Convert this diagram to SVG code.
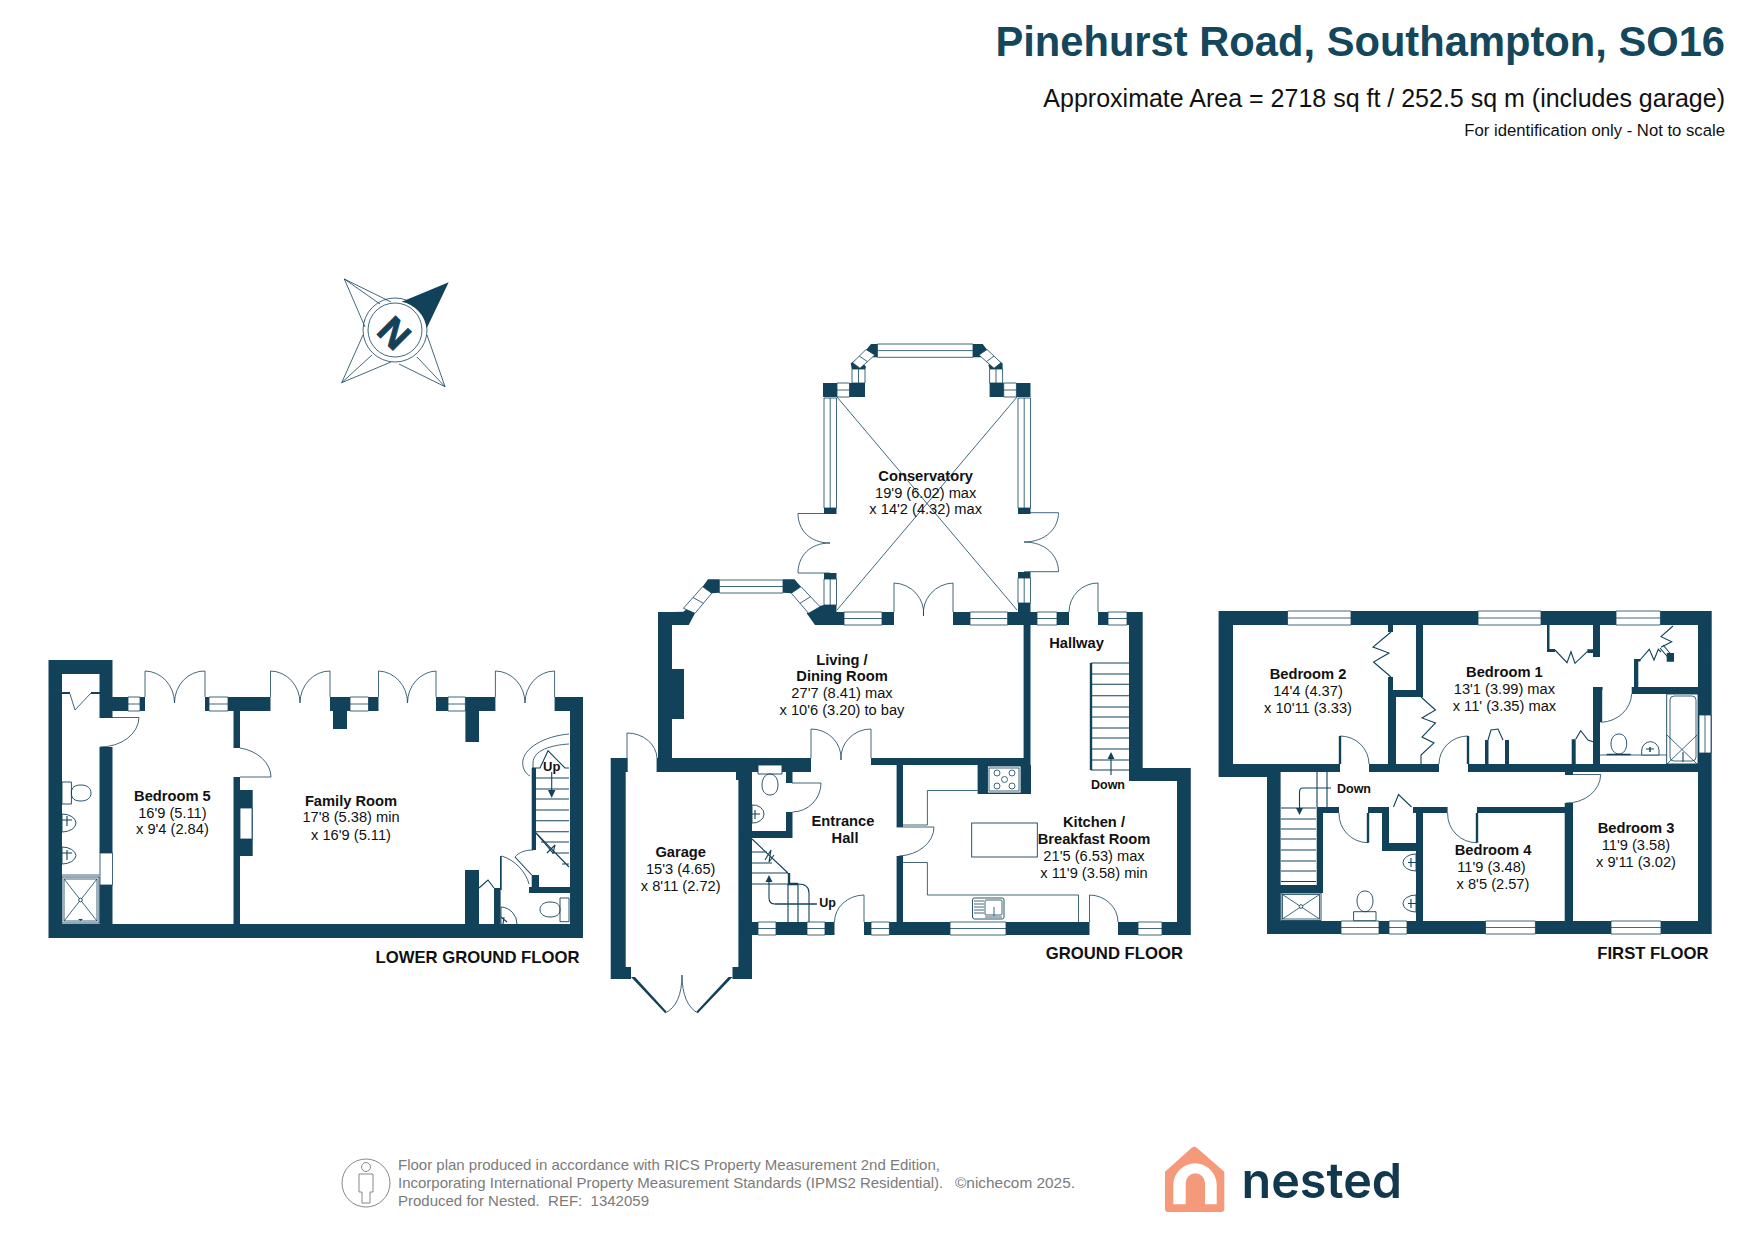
<svg xmlns="http://www.w3.org/2000/svg" width="1755" height="1241" viewBox="0 0 1755 1241">
<style>
text{font-family:"Liberation Sans",Arial,sans-serif;fill:#111}
.b{font-weight:700;font-size:14.7px;text-anchor:middle}
.t{font-size:14.65px;text-anchor:middle}
.sm{font-weight:700;font-size:12.5px;text-anchor:middle}
.fl{font-weight:700;font-size:16.7px;text-anchor:end}
.w{fill:#12425a}
.win{fill:#fff;stroke:#12425a;stroke-width:.8}
.d{fill:none;stroke:#12425a;stroke-width:.8}
.s{fill:none;stroke:#12425a;stroke-width:1.1}
.h{fill:none;stroke:#12425a;stroke-width:2.4}
.f{fill:#fff;stroke:#12425a;stroke-width:.9}
.a{fill:#12425a}
.g{font-size:15px;fill:#7b7b7b}
.p{fill:none;stroke:#7b7b7b;stroke-width:.9}
</style>
<rect width="1755" height="1241" fill="#fff"/>

<g id="header">
<text x="1725" y="56" text-anchor="end" font-weight="700" font-size="41.700" style="fill:#14465c">Pinehurst Road, Southampton, SO16</text>
<text x="1725" y="107" text-anchor="end" font-size="25">Approximate Area = 2718 sq ft / 252.5 sq m (includes garage)</text>
<text x="1725" y="136" text-anchor="end" font-size="16.700">For identification only - Not to scale</text>
</g>

<g id="compass">
<path class="d" d="M344.300 279L391 302M344.300 279L365 327M344.300 279L380 304M341.700 382.700L363 335M341.700 382.700L391 362M341.700 382.700L372 355M445 386.700L399 364M445 386.700L427 335M445 386.700L417 357"/>
<circle class="d" cx="395" cy="330" r="32"/>
<circle class="d" cx="395" cy="330" r="27"/>
<path class="a" d="M401.700 301.700L448.700 282.300L426.700 328.300A32 32 0 0 0 401.700 301.700Z"/>
<text x="0" y="0" text-anchor="middle" font-weight="700" font-size="38" transform="translate(394.500 333) rotate(45) translate(0 13.500)" style="fill:#12425a;stroke:#12425a;stroke-width:1">N</text>
</g>

<g id="lower-ground-floor">
<path class="w" d="M48.500 660H112.500V674H48.500ZM48.500 660H62V938H48.500ZM99.500 660H112.500V718H99.500ZM99.500 747H112.500V853H99.500ZM99.500 885H112.500V924H99.500ZM48.500 924H583V938H48.500ZM570 697H583V938H570ZM112.500 697H145V711H112.500ZM205 697H270.500V711H205ZM330 697H378.500V711H330ZM436 697H495.400V711H436ZM554.600 697H583V711H554.600ZM333 711H347V729H333ZM465.400 711H479V742H465.400ZM233.500 711H240V748H233.500ZM233.500 777H240V924H233.500ZM240 790H252.700V856H240ZM465 870H479V924H465ZM494 888H500.600V924H494ZM531.700 875H539V893H531.700ZM529 887H570V893H529ZM531.700 768H536V850H531.700ZM500 856H501.700V890H500ZM62 692H70V694H62ZM91 692H99.500V694H91Z"/>
<path class="win" d="M128 697h12v14h-12zM128 704h12M209 697h19v14h-19zM209 704h19M350 697h18.500v14h-18.500zM350 704h18.500M448 697h17.400v14h-17.400zM448 704h17.400"/>
<rect class="win" x="100" y="853" width="12.500" height="32"/>
<rect class="win" x="240" y="808" width="12" height="31"/>
<path class="d" d="M145 697V671A30 32 0 0 1 174.500 703M205 697V671A30 32 0 0 0 174.500 703M270.500 697V671A30 32 0 0 1 300 703M330 697V671A30 32 0 0 0 300 703M378.500 697V671A30 32 0 0 1 407.500 703M436 697V671A30 32 0 0 0 407.500 703M495.400 697V671A30 32 0 0 1 525 703M554.600 697V671A30 32 0 0 0 525 703"/>
<path class="d" d="M240 748A39 30 0 0 1 271 777H240M106 717.500H139A39 30 0 0 1 100 747M70 694L75 710L91 693M569 734C545 736 522.700 748 522.700 763C522.700 769 526 774 530 776M569 744C552 745 533 750 533 763V768M501.700 856C515 860 526 872 529 884M515 857C519 852 526 850 533 850"/>
<path class="s" d="M515 857L531.700 875M532 768H540L548 750.700L565 768H569M536 778H569M536 789H569M536 799H569M536 810H569M536 820.700H569M536 831.700H569M536 833L569 867M541 842H569M552 853H569M562 864H569M547 853L555 845"/>
<path class="s" d="M536 833L553 853L555 845M479 888L488 880L494 888"/>
<path class="s" d="M551.700 772V792"/><path class="a" d="M551.700 798L548 790H555.400Z"/>
<path class="f" d="M62 782H71.400V804H62ZM62 814A14 9 0 0 1 76 823A14 9 0 0 1 62 832ZM62 847A14 9 0 0 1 76 855.500A14 9 0 0 1 62 864ZM71.400 793C71.400 787 75 785 81 785C87 785 91 788 91 793C91 798 87 801 81 801C75 801 71.400 799 71.400 793ZM560 898H569V921.700H560ZM560 909.500C560 904 556 902 550 902C544 902 540 905 540 909.500C540 914 544 917 550 917C556 917 560 915 560 909.500Z"/>
<path class="s" d="M62 820H72M67 816V826M62 853H72M67 850V860"/>
<rect class="f" x="62" y="877" width="37" height="46"/>
<rect class="d" x="64" y="879" width="33" height="42"/>
<path class="d" d="M64 879L97 921M97 879L64 921M62 875H99.500"/>
<circle class="f" cx="80.500" cy="900" r="1.800"/>
<path class="a" d="M78 919H83L80.500 921Z"/>
<path class="f" d="M501 924V907A17 17 0 0 1 517 924"/>
<path class="s" d="M501 917L507 922M503 924L504 917"/>
<text class="b" x="172.400" y="800.700">Bedroom 5</text>
<text class="t" x="172.400" y="817.700">16'9 (5.11)</text>
<text class="t" x="172.400" y="834">x 9'4 (2.84)</text>
<text class="b" x="351" y="805.500">Family Room</text>
<text class="t" x="351" y="822">17'8 (5.38) min</text>
<text class="t" x="351" y="839.500">x 16'9 (5.11)</text>
<text class="b" x="551.700" y="771" style="font-size:13px">Up</text>
<text class="fl" x="579.500" y="962.500">LOWER GROUND FLOOR</text>
</g>

<g id="ground-floor">
<path class="w" d="M823 383H865V397H823ZM989.600 383H1030.500V397H989.600ZM824 508H836.500V514H824ZM1018 508H1030.500V514H1018ZM824 573H836.500V579H824ZM1018 572H1030.500V578H1018ZM866 350L871 344H877.500V357.300H872.500ZM973 344H982.700L987.300 350L980.800 357.300H973ZM850.700 363.300L858.300 358.300L866 366.700L865 370L851.800 369.300ZM994.800 358.300L1002.600 363.300V369.300H989.600L988.400 365ZM683.400 611.700L688.800 607.300L695 613.300L688.800 625H672V612ZM702.600 586.700L708 579.300H719.400V592.700L711.700 593.300ZM783 579.300H794.400L801 586.700L791.400 593.300L783 592.700ZM816 606.700L824 605H836.500V625H815L806.700 613.300ZM836.500 612H844V625H836.500ZM882 612H894V625H882ZM953 612H970V625H953ZM1007.600 612H1018V625H1007.600ZM1018 603H1030.500V612H1037V625H1018ZM1057 612H1069V625H1057ZM1098 612H1108V625H1098ZM1127 612H1142.700V625H1127ZM1129 612H1142.700V781H1129ZM1023.600 625H1030.500V765H1023.600ZM658 612H672V765H658ZM672 669H684V719H672ZM656.600 758H811V772H656.600ZM871 758H1030.500V765H871ZM610.700 758H627.700V772H610.700ZM610.700 758H625.700V979H610.700ZM610.700 967H631V979H610.700ZM738.400 772H752V979H738.400ZM732.500 967H752V979H732.500ZM752 922H834.500V935H752ZM864 922H1089.500V935H864ZM1118 922H1190.800V935H1118ZM1177 768H1190.800V935H1177ZM1130 768H1190.800V781H1130ZM896.600 765H903V827H896.600ZM896.600 856H903V922H896.600ZM786 765H792.500V783H786ZM786 812H792.500V838H786ZM752 831H792.500V838H752ZM977.600 765H1031V794H977.600ZM736 772H752V780H736Z"/>
<path class="w" d="M631 977L665 1013L666.500 1011.500L635 977ZM732.500 977L698 1013L696.500 1011.500L728.500 977Z"/>
<path class="win" d="M877.500 344h95.500v13.300h-95.500zM877.500 350.600h95.500M852 369h13v14h-13zM858.500 369v14M989.600 369h13v14h-13zM996 369v14M837 383h12.500v14h-12.500zM837 390h12.500M1003.700 383h12.700v14h-12.700zM1003.700 390h12.700M824 398h12.500v110h-12.500zM830.200 398v110M1018 398h12.500v110h-12.500zM1024.200 398v110M824 579h12.500v26h-12.500zM830.200 579v26M1018 578h12.500v25h-12.500zM1024.200 578v25M719.400 580h63.600v13h-63.600zM719.400 586.500h63.600M844 612h38v13h-38zM844 618.500h38M970 612h37.600v13h-37.600zM970 618.500h37.600M1037 612h20v13h-20zM1037 618.500h20M1108 612h19v13h-19zM1108 618.500h19M758 922h18v13h-18zM758 928.500h18M807 922h18v13h-18zM807 928.500h18M871 922h18.400v13h-18.400zM871 928.500h18.400M950 922h56v13h-56zM950 928.500h56M1138 922h24v13h-24zM1138 928.500h24"/>
<path class="win" d="M866 349.500L852.600 362.700L860 368.300L874.800 355ZM859.300 356.100L867.400 361.600M987 349.500L1001 362.700L994 368.300L979 355ZM994 356.100L986.500 361.600M683.400 608.300L702.600 586.700L711.700 593.300L695 613.300ZM693 597.500L703.400 603.300M801 586.700L820 606.700L808.600 613.300L791.400 593.300ZM810.500 596.700L800 603.300"/>
<path class="d" d="M837 397L1017 610M1017 397L837 610"/>
<path class="d" d="M830 513.500H798C798 530 810 543 830 543C810 543 798 556 798 573H830M1024 512.700H1058.500C1058.500 528 1046 542 1024 542C1046 542 1058.500 556 1058.500 571.700H1024"/>
<path class="d" d="M894 612V583A31 30 0 0 1 923.500 616M953 612V583A31 30 0 0 0 923.500 616M1069 612A29 29 0 0 1 1098 583V612M811 758V729A30 29 0 0 1 841 760M871 758V729A30 29 0 0 0 841 760M627 758V733A30 26 0 0 1 657 758M864 922V895A30 27 0 0 0 834.500 922M1089.500 922V895A29 27 0 0 1 1118 922M896.600 827H934A37 29 0 0 1 899 856M792 783H821A29 29 0 0 1 792.500 812M665 1013C676 1008 682 995 682 975C682 995 688 1008 698 1013"/>
<path class="s" d="M1091 663H1129M1091 674H1129M1091 684.300H1129M1091 695.700H1129M1091 707H1129M1091 717H1129M1091 728H1129M1091 738H1129M1091 749H1129M1091 760H1129M1091 770H1129M752 852H767M752 863H772M752 873H788M752 884H788M752 839L788 873M765 860L771 850L769 862L774 855M775 904H817M788 884V922M798 884V922M798 884Q809 884 809 893V922"/>
<path class="h" d="M1091 663V770M789 873V884H798"/>
<path class="s" d="M1111 775V757M816.700 904H775Q769 904 769 898V880"/><path class="a" d="M1111 752L1107.500 759H1114.500ZM769 875L765.500 882H772.500Z"/>
<path class="d" d="M977.600 790.500H927.400V825H903M903 862.500H927.400V895H1078.500V922"/>
<rect class="f" x="971.700" y="823" width="65.600" height="34"/>
<path class="f" d="M758 765H782V774H758ZM762 785C762 779 765 774 770 774C775 774 778 779 778 785C778 791 775 795 770 795C765 795 762 791 762 785ZM752 805A11 9 0 0 1 764 814A11 9 0 0 1 752 823Z"/>
<path class="s" d="M752 814H760M755 810V819"/>
<rect class="f" x="987.500" y="766" width="33.500" height="27"/>
<g class="d"><rect x="989" y="768" width="30" height="23"/><circle cx="997" cy="773" r="3"/><circle cx="1012" cy="773" r="3"/><circle cx="1004.500" cy="779.500" r="3"/><circle cx="997" cy="786" r="3"/><circle cx="1012" cy="786" r="3"/></g>
<rect class="f" x="972.500" y="898" width="31.500" height="21" rx="2"/>
<rect class="d" x="985" y="900" width="17" height="15" rx="1"/>
<path class="d" d="M974 901H984M974 904H984M974 907H984M974 910H984M974 913H984M994 907V916M985 917H1002"/>
<text class="b" x="925.700" y="480.700">Conservatory</text>
<text class="t" x="925.700" y="497.700">19'9 (6.02) max</text>
<text class="t" x="925.700" y="514">x 14'2 (4.32) max</text>
<text class="b" x="842" y="664.500">Living /</text>
<text class="b" x="842" y="681">Dining Room</text>
<text class="t" x="842" y="697.800">27'7 (8.41) max</text>
<text class="t" x="842" y="714.500">x 10'6 (3.20) to bay</text>
<text class="b" x="1076.500" y="647.700">Hallway</text>
<text class="sm" x="1108" y="788.500">Down</text>
<text class="b" x="680.700" y="856.700">Garage</text>
<text class="t" x="680.700" y="874">15'3 (4.65)</text>
<text class="t" x="680.700" y="891">x 8'11 (2.72)</text>
<text class="b" x="843" y="825.700">Entrance</text>
<text class="b" x="845" y="842.700">Hall</text>
<text class="sm" x="827.500" y="906.500">Up</text>
<text class="b" x="1094" y="827.200">Kitchen /</text>
<text class="b" x="1094" y="844.200">Breakfast Room</text>
<text class="t" x="1094" y="860.500">21'5 (6.53) max</text>
<text class="t" x="1094" y="877.500">x 11'9 (3.58) min</text>
<text class="fl" x="1183" y="958.500">GROUND FLOOR</text>
</g>

<g id="first-floor">
<path class="w" d="M1218.600 611H1711.700V625H1218.600ZM1218.600 611H1233V777H1218.600ZM1218.600 764H1280.600V777H1218.600ZM1280 764H1340V772H1280ZM1369 764H1439V772H1369ZM1468 764H1711.700V772H1468ZM1267 777H1280.600V934H1267ZM1267 921H1711.700V934H1267ZM1698 611H1711.700V934H1698ZM1388 690H1396V764H1388ZM1388 690H1423V697H1388ZM1416 625H1423V697H1416ZM1593 625H1600V657H1593ZM1587.300 649.300H1593V653H1587.300ZM1593 687H1602.600V690H1593ZM1593 687H1600V764H1593ZM1634 659H1638.300V687H1634ZM1634 659H1640.500V661.500H1634ZM1631.700 687H1698V694H1631.700ZM1316.700 807H1339V813H1316.700ZM1368 807H1389V813H1368ZM1413 807H1447.600V813H1413ZM1477 807H1565V813H1477ZM1316.700 807H1323V893H1316.700ZM1267 885H1323V893H1267ZM1382 807H1389V851H1382ZM1382 843H1423V851H1382ZM1416 807H1423V921H1416ZM1564.700 803H1573V921H1564.700ZM1565 772H1573V775H1565ZM1571.700 739.300H1575.700V764H1571.700ZM1485 740H1488.500V764H1485ZM1505 740H1509V764H1505ZM1388 625H1393V632H1388ZM1388 677H1393V690H1388ZM1666.700 653H1674V661.700H1666.700ZM1547 625H1549.500V650H1547ZM1547 649H1555V652H1547Z"/>
<path class="win" d="M1287.500 611h63.500v14h-63.500zM1287.500 618h63.500M1478 611h63v14h-63zM1478 618h63M1616 611h44.400v14h-44.400zM1616 618h44.400M1341 921h38v13h-38zM1341 927.500h38M1389 921h18v13h-18zM1389 927.500h18M1485.500 921h49.900v13h-49.900zM1485.500 927.500h49.900M1611 921h50v13h-50zM1611 927.500h50M1699 715h12v38h-12zM1705 715v38"/>
<path class="s" d="M1391 632L1373 647L1389 653L1373.500 662L1391 677M1421 697L1435.500 710L1422 718L1435.500 723L1422 737L1434 743L1421 755V764"/>
<path class="s" d="M1555 650L1567 662.700L1571 651.700L1575 663.300L1587.300 651.700M1640 660L1649.300 649.300L1654 660L1658.300 649.300L1661 652M1673 626L1661 636.700L1671.700 641.700L1661 647.300"/>
<path class="s" d="M1660 648L1671 661M1663 645L1674 658"/>
<path class="s" d="M1488 740L1491 730L1498 729L1503 740M1575.700 739.300L1580.700 730.700L1588 740L1593 741.700"/>
<path class="d" d="M1340 736A29 28 0 0 1 1369 764M1468 736A29 28 0 0 0 1439 764M1573 774.500H1600.700A34 29 0 0 1 1566 803M1339 813A29 29 0 0 0 1368 842.700M1447.600 813A29 29 0 0 0 1477 842.700M1631.700 694A32 30 0 0 1 1601.700 722.300"/>
<path class="h" d="M1340 736V764M1468 736V764M1368 813V842.700M1477 813V842.700M1601 690V722.300"/>
<path class="s" d="M1393.500 807L1398.500 794.500L1411.500 807M1317 772V807M1327 772V807M1281 808H1316M1281 819H1316M1281 829H1316M1281 839H1316M1281 850H1316M1281 861H1316M1281 871H1316M1281 881.500H1316M1331 788H1303Q1299.500 788 1299.500 792V810"/>
<path class="a" d="M1299.500 815L1296 808H1303Z"/>
<rect class="f" x="1666.700" y="694" width="31.300" height="70"/>
<rect class="d" x="1670" y="696" width="26" height="65" rx="4"/>
<path class="d" d="M1667 735L1697 764M1697 735L1667 764M1600 755H1666.700"/>
<path class="f" d="M1611 744C1611 738 1614 734 1619 734C1624 734 1626.700 738 1626.700 744C1626.700 749 1624 754 1619 754C1614 754 1611 749 1611 744ZM1641.700 755V750A8.700 9.300 0 0 1 1659 750V755ZM1416 854A13 8.500 0 0 0 1403 862.500A13 8.500 0 0 0 1416 871ZM1416 895A13 8.500 0 0 0 1403 903.500A13 8.500 0 0 0 1416 912ZM1353.600 911.700H1376V920.700H1353.600ZM1357 901C1357 895 1360 891 1365 891C1370 891 1373 895 1373 901C1373 906 1370 911.700 1365 911.700C1360 911.700 1357 906 1357 901Z"/>
<path class="h" d="M1606.700 754.500H1630.700M1650 747V752" style="stroke-width:1.500"/>
<path class="s" d="M1646 749H1654M1683 752V762M1408 862.500H1416M1411 858V867M1408 903.500H1416M1411 899V908"/>
<rect class="f" x="1281" y="893" width="40" height="27.500"/>
<rect class="d" x="1282.500" y="894.500" width="37" height="24.500"/>
<path class="d" d="M1282.500 894.500L1319.500 919M1319.500 894.500L1282.500 919"/>
<circle class="f" cx="1301" cy="906.500" r="1.800"/>
<text class="b" x="1308" y="678.700">Bedroom 2</text>
<text class="t" x="1308" y="695.700">14'4 (4.37)</text>
<text class="t" x="1308" y="712.700">x 10'11 (3.33)</text>
<text class="b" x="1504.400" y="676.500">Bedroom 1</text>
<text class="t" x="1504.400" y="693.500">13'1 (3.99) max</text>
<text class="t" x="1504.400" y="710.500">x 11' (3.35) max</text>
<text class="b" x="1636" y="833">Bedroom 3</text>
<text class="t" x="1636" y="850.300">11'9 (3.58)</text>
<text class="t" x="1636" y="867.300">x 9'11 (3.02)</text>
<text class="b" x="1493" y="855.300">Bedroom 4</text>
<text class="t" x="1491.500" y="872">11'9 (3.48)</text>
<text class="t" x="1493" y="889">x 8'5 (2.57)</text>
<text class="sm" x="1354" y="792.500">Down</text>
<text class="fl" x="1708.500" y="958.500">FIRST FLOOR</text>
</g>

<g id="footer">
<circle class="p" cx="366" cy="1183" r="24"/>
<circle class="p" cx="366" cy="1167" r="4.500"/>
<path class="p" d="M359 1174H373V1192H370V1203H362V1192H359Z"/>
<text class="g" x="398" y="1169.500">Floor plan produced in accordance with RICS Property Measurement 2nd Edition,</text>
<text class="g" x="398" y="1188">Incorporating International Property Measurement Standards (IPMS2 Residential).</text>
<text class="g" x="955" y="1188" style="font-size:15.400px">©nichecom 2025.</text>
<text class="g" x="398" y="1206">Produced for Nested.&#160; REF:&#160; 1342059</text>
<path d="M1165 1171.700L1191.500 1148Q1194.300 1145.500 1197.100 1148L1224.300 1171.700V1209Q1224.300 1212 1221.300 1212H1168Q1165 1212 1165 1209Z" fill="#f4997a"/>
<path d="M1173.300 1204.300V1185A21.700 21.700 0 0 1 1216.700 1185V1204.300H1205V1183A9.650 9.650 0 0 0 1185.700 1183V1204.300Z" fill="#fff"/>
<text x="1241.500" y="1198.300" font-size="48.500" font-weight="600" style="font-family:Inter,sans-serif;fill:#12384e">nested</text>
</g>
</svg>
